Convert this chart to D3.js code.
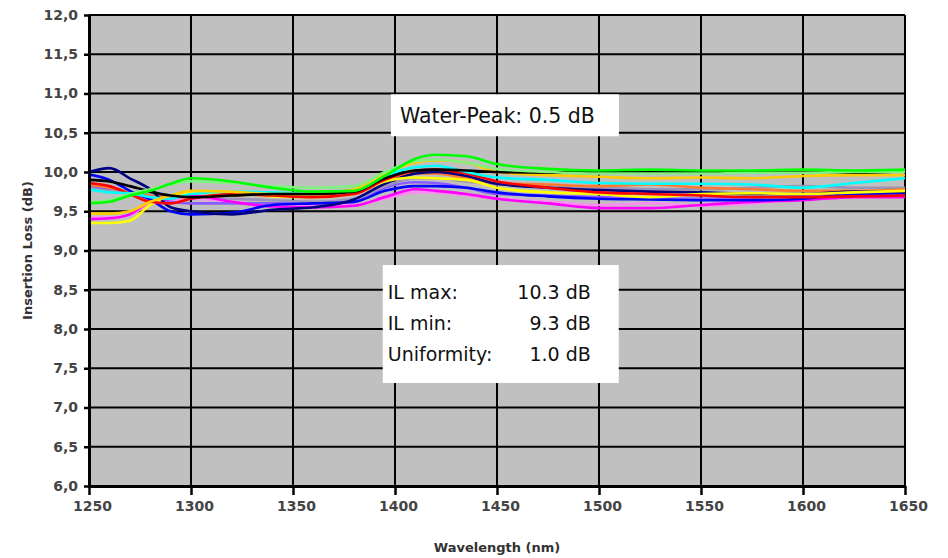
<!DOCTYPE html>
<html>
<head>
<meta charset="utf-8">
<script src="https://cdn.jsdelivr.net/npm/d3@7"></script>
<style>
  body { margin: 0; background: #fff; }
  svg text { font-family: "DejaVu Sans", sans-serif; }
</style>
</head>
<body>
<div id="chart"></div>
<script>
var svgWidth = 948;
var svgHeight = 558;

var margin = { top: 15, right: 43, bottom: 72, left: 89 };
var width = svgWidth - margin.left - margin.right;
var height = svgHeight - margin.top - margin.bottom;

var wavelengths = [1250, 1260, 1270, 1280, 1290, 1300, 1320, 1340, 1360, 1380, 1395, 1410, 1420, 1435, 1450, 1475, 1500, 1525, 1550, 1575, 1600, 1625, 1650];

// insertion loss (dB), one array per port
var pink    = [9.42, 9.42, 9.45, 9.60, 9.64, 9.66, 9.62, 9.58, 9.57, 9.58, 9.66, 9.74, 9.74, 9.70, 9.66, 9.62, 9.58, 9.60, 9.57, 9.60, 9.66, 9.70, 9.72];
var violet  = [9.82, 9.78, 9.72, 9.68, 9.62, 9.60, 9.60, 9.60, 9.60, 9.62, 9.80, 9.87, 9.86, 9.80, 9.72, 9.70, 9.68, 9.66, 9.66, 9.67, 9.70, 9.74, 9.74];
var grey    = [9.80, 9.76, 9.74, 9.72, 9.70, 9.68, 9.66, 9.64, 9.62, 9.66, 9.82, 9.92, 9.92, 9.88, 9.84, 9.83, 9.80, 9.78, 9.78, 9.80, 9.82, 9.80, 9.80];
var orange  = [9.84, 9.80, 9.74, 9.70, 9.68, 9.68, 9.70, 9.72, 9.70, 9.74, 9.90, 9.98, 9.98, 9.92, 9.86, 9.84, 9.82, 9.84, 9.80, 9.78, 9.76, 9.76, 9.78];
var magenta = [9.40, 9.41, 9.46, 9.62, 9.66, 9.70, 9.62, 9.56, 9.55, 9.57, 9.68, 9.78, 9.76, 9.72, 9.66, 9.60, 9.54, 9.54, 9.58, 9.62, 9.64, 9.68, 9.68];
var blue    = [9.97, 9.90, 9.76, 9.65, 9.50, 9.46, 9.48, 9.58, 9.60, 9.62, 9.76, 9.82, 9.82, 9.80, 9.74, 9.69, 9.66, 9.65, 9.64, 9.64, 9.66, 9.72, 9.73];
var navy    = [10.00, 10.05, 9.92, 9.78, 9.55, 9.50, 9.46, 9.52, 9.55, 9.65, 9.85, 9.98, 10.00, 9.95, 9.85, 9.80, 9.77, 9.75, 9.74, 9.72, 9.72, 9.75, 9.75];
var yellow  = [9.35, 9.35, 9.38, 9.58, 9.70, 9.74, 9.74, 9.69, 9.68, 9.72, 9.88, 9.93, 9.92, 9.90, 9.80, 9.74, 9.72, 9.68, 9.72, 9.73, 9.72, 9.74, 9.76];
var red     = [9.86, 9.82, 9.72, 9.62, 9.60, 9.66, 9.72, 9.70, 9.68, 9.72, 9.90, 10.02, 10.03, 9.98, 9.88, 9.80, 9.74, 9.72, 9.70, 9.68, 9.68, 9.69, 9.70];
var cyan    = [9.78, 9.74, 9.73, 9.68, 9.66, 9.72, 9.75, 9.74, 9.72, 9.76, 9.95, 10.06, 10.08, 10.00, 9.93, 9.90, 9.86, 9.85, 9.85, 9.84, 9.80, 9.86, 9.92];
var gold    = [9.47, 9.47, 9.50, 9.62, 9.70, 9.76, 9.75, 9.72, 9.72, 9.78, 9.98, 10.12, 10.15, 10.12, 10.00, 9.96, 9.94, 9.92, 9.93, 9.92, 9.95, 9.96, 9.96];
var black   = [9.90, 9.88, 9.82, 9.75, 9.70, 9.68, 9.70, 9.72, 9.72, 9.75, 9.92, 10.02, 10.03, 10.02, 10.00, 9.99, 10.01, 9.99, 10.00, 9.99, 10.01, 9.99, 10.01];
var lime    = [9.62, 9.64, 9.72, 9.78, 9.84, 9.88, 9.86, 9.82, 9.80, 9.82, 10.00, 10.14, 10.16, 10.12, 10.04, 10.00, 9.98, 9.98, 9.98, 9.99, 9.99, 10.00, 10.00];
var green   = [9.60, 9.62, 9.70, 9.76, 9.85, 9.92, 9.88, 9.80, 9.75, 9.76, 9.95, 10.17, 10.22, 10.20, 10.10, 10.04, 10.02, 10.03, 10.02, 10.02, 10.03, 10.02, 10.03];

var series = [
  { name: "pink", color: "#ff8cf0", values: pink },
  { name: "violet", color: "#8a5cff", values: violet },
  { name: "grey", color: "#9a94b8", values: grey },
  { name: "orange", color: "#ff7a30", values: orange },
  { name: "magenta", color: "#ff00ff", values: magenta },
  { name: "blue", color: "#0000ff", values: blue },
  { name: "navy", color: "#000080", values: navy },
  { name: "yellow", color: "#ffff00", values: yellow },
  { name: "red", color: "#ff0000", values: red },
  { name: "cyan", color: "#00ffff", values: cyan },
  { name: "gold", color: "#ffcc00", values: gold },
  { name: "black", color: "#000000", values: black },
  { name: "lime", color: "#80f080", values: lime },
  { name: "green", color: "#00ff00", values: green }
];

var xTicks = [1250, 1300, 1350, 1400, 1450, 1500, 1550, 1600, 1650];
var yTicks = [6.0, 6.5, 7.0, 7.5, 8.0, 8.5, 9.0, 9.5, 10.0, 10.5, 11.0, 11.5, 12.0];

var svg = d3.select("#chart")
  .append("svg")
  .attr("width", svgWidth)
  .attr("height", svgHeight);

var chartGroup = svg.append("g")
  .attr("transform", `translate(${margin.left}, ${margin.top})`);

var xScale = d3.scaleLinear().domain([1250, 1650]).range([0, width]);
var yScale = d3.scaleLinear().domain([6, 12]).range([height, 0]);

// plot background
chartGroup.append("rect")
  .attr("width", width)
  .attr("height", height)
  .attr("fill", "#c0c0c0");

// grid lines
chartGroup.append("g")
  .selectAll("line")
  .data(xTicks)
  .enter()
  .append("line")
  .attr("x1", d => xScale(d))
  .attr("x2", d => xScale(d))
  .attr("y1", 0)
  .attr("y2", height)
  .attr("stroke", "#000")
  .attr("stroke-width", 2);

chartGroup.append("g")
  .selectAll("line")
  .data(yTicks)
  .enter()
  .append("line")
  .attr("x1", 0)
  .attr("x2", width)
  .attr("y1", d => yScale(d))
  .attr("y2", d => yScale(d))
  .attr("stroke", "#000")
  .attr("stroke-width", 2);

// curves
var line = d3.line()
  .x((d, i) => xScale(wavelengths[i]))
  .y(d => yScale(d))
  .curve(d3.curveMonotoneX);

chartGroup.append("g")
  .selectAll("path")
  .data(series)
  .enter()
  .append("path")
  .attr("d", d => line(d.values))
  .attr("fill", "none")
  .attr("stroke", d => d.color)
  .attr("stroke-width", 2.6);

// axes
var bottomAxis = d3.axisBottom(xScale)
  .tickValues(xTicks)
  .tickSize(9)
  .tickSizeOuter(0)
  .tickPadding(6)
  .tickFormat(d3.format("d"));

var leftAxis = d3.axisLeft(yScale)
  .tickValues(yTicks)
  .tickSize(5)
  .tickSizeOuter(0)
  .tickPadding(6)
  .tickFormat(d => d3.format(".1f")(d).replace(".", ","));

var xAxis = chartGroup.append("g")
  .attr("transform", `translate(0, ${height})`)
  .call(bottomAxis);

var yAxis = chartGroup.append("g")
  .call(leftAxis);

[xAxis, yAxis].forEach(function(ax) {
  ax.select(".domain").attr("stroke", "#000").attr("stroke-width", 3);
  ax.selectAll(".tick line").attr("stroke", "#000").attr("stroke-width", 2.5);
  ax.selectAll(".tick text")
    .attr("fill", "#444")
    .style("font-size", "14px")
    .style("font-weight", "bold");
});
xAxis.selectAll(".tick text").attr("dx", 3);

// axis titles
chartGroup.append("text")
  .attr("x", width / 2)
  .attr("y", height + 66)
  .attr("text-anchor", "middle")
  .attr("fill", "#333")
  .style("font-size", "13px")
  .style("font-weight", "bold")
  .text("Wavelength (nm)");

chartGroup.append("text")
  .attr("transform", "rotate(-90)")
  .attr("x", 0 - (yScale(9.0)))
  .attr("y", 0 - margin.left + 32)
  .attr("text-anchor", "middle")
  .attr("fill", "#333")
  .style("font-size", "13px")
  .style("font-weight", "bold")
  .text("Insertion Loss (dB)");

// annotation boxes
var wpBox = chartGroup.append("g")
  .attr("transform", `translate(${xScale(1398)}, ${yScale(10.99)})`);
wpBox.append("rect")
  .attr("width", 228)
  .attr("height", 42)
  .attr("fill", "#fff");
wpBox.append("text")
  .attr("x", 9)
  .attr("y", 29)
  .attr("fill", "#111")
  .style("font-size", "20.5px")
  .text("Water-Peak: 0.5 dB");

var statLabels = ["IL max:", "IL min:", "Uniformity:"];
var statValues = ["10.3 dB", "9.3 dB", "1.0 dB"];

var ilBox = chartGroup.append("g")
  .attr("transform", `translate(${xScale(1394)}, ${yScale(8.815)})`);
ilBox.append("rect")
  .attr("width", 236)
  .attr("height", 118)
  .attr("fill", "#fff");
ilBox.selectAll("text.lab")
  .data(statLabels)
  .enter()
  .append("text")
  .attr("class", "lab")
  .attr("x", 5)
  .attr("y", (d, i) => 34 + i * 31)
  .attr("fill", "#111")
  .style("font-size", "19px")
  .text(d => d);
ilBox.selectAll("text.val")
  .data(statValues)
  .enter()
  .append("text")
  .attr("class", "val")
  .attr("x", 208)
  .attr("y", (d, i) => 34 + i * 31)
  .attr("text-anchor", "end")
  .attr("fill", "#111")
  .style("font-size", "19px")
  .text(d => d);
</script>
</body>
</html>
